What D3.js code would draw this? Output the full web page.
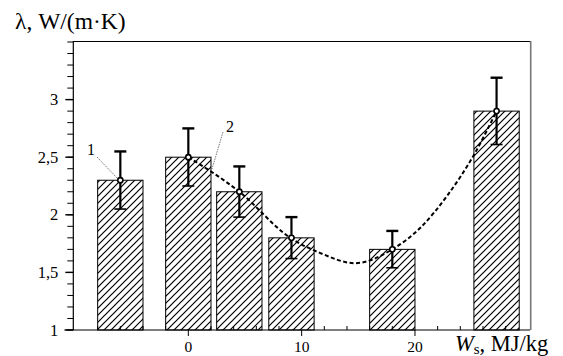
<!DOCTYPE html>
<html>
<head>
<meta charset="utf-8">
<script src="https://cdn.jsdelivr.net/npm/d3@7"></script>
<style>
  body { margin: 0; background: #fff; }
  svg text { font-family: "Liberation Serif", "DejaVu Serif", serif; }
</style>
</head>
<body>
<svg width="563" height="356"></svg>
<script>
// Bars: x position (MJ/kg), lambda value, error half-width
const barX = [-6, 0, 4.5, 9.1, 18, 27.2];
const barValues = [2.3, 2.5, 2.2, 1.8, 1.7, 2.9];
const barErrors = [0.25, 0.25, 0.22, 0.18, 0.16, 0.29];

// Dashed trend line (curve 2)
const curveX = [0, 4.5, 9, 11.6, 14.7, 18, 20.5, 22.8, 25.2, 27.2];
const curveY = [2.5, 2.2, 1.8, 1.67, 1.58, 1.7, 1.89, 2.16, 2.52, 2.9];

// Axis ticks
const yMajorTicks = [1, 1.5, 2, 2.5, 3];
const yMinorTicks = d3.range(10, 36).map(d => d / 10);
const xMajorTicks = [0, 10, 20];
const xMinorTicks = [-8, -6, -4, -2, 2, 4, 6, 8, 12, 14, 16, 18, 22, 24, 26, 28];

const svg = d3.select("svg");
const pLeft = 73.3, pRight = 530, pTop = 42, pBottom = 330;
const serif = "'Liberation Serif', 'DejaVu Serif', serif";

const x = d3.scaleLinear().domain([-10.15, 30.15]).range([pLeft, pRight]);
const y = d3.scaleLinear().domain([1, 3.5]).range([pBottom, pTop]);

const comma = d3.formatLocale({ decimal: ",", thousands: " ", grouping: [3], currency: ["", ""] }).format("~g");

// hatch pattern
const defs = svg.append("defs");
defs.append("pattern")
  .attr("id", "hatch")
  .attr("patternUnits", "userSpaceOnUse")
  .attr("width", 7).attr("height", 7)
  .append("path")
  .attr("d", "M0,7 L7,0 M-2,2 L2,-2 M5,9 L9,5")
  .attr("stroke", "#000")
  .attr("stroke-width", 1.2);

// frame top and right
svg.append("line")
  .attr("x1", pLeft).attr("x2", pRight).attr("y1", pTop - 0.5).attr("y2", pTop - 0.5)
  .attr("stroke", "#000").attr("stroke-width", 1.2);
svg.append("line")
  .attr("x1", pRight + 0.7).attr("x2", pRight + 0.7).attr("y1", pTop - 1).attr("y2", pBottom)
  .attr("stroke", "#777").attr("stroke-width", 1.6);

// bars
const barWidth = 4;
svg.selectAll(".bar")
  .data(barValues)
  .join("rect")
  .attr("class", "bar")
  .attr("x", (d, i) => x(barX[i] - barWidth / 2))
  .attr("width", (d, i) => x(barX[i] + barWidth / 2) - x(barX[i] - barWidth / 2))
  .attr("y", d => y(d))
  .attr("height", d => y(1) - y(d))
  .attr("fill", "url(#hatch)")
  .attr("stroke", "#000")
  .attr("stroke-width", 1);

// dashed curve
const curveData = curveX.map((v, i) => ({ x: v, y: curveY[i] }));
svg.append("path")
  .datum(curveData)
  .attr("fill", "none")
  .attr("stroke", "#000")
  .attr("stroke-width", 2)
  .attr("stroke-dasharray", "4,2.5")
  .attr("d", d3.line().x(d => x(d.x)).y(d => y(d.y)).curve(d3.curveMonotoneX));

// error bars
const capW = 6;
barValues.forEach((v, i) => {
  const cx = x(barX[i]);
  const g = svg.append("g").attr("stroke", "#000");
  g.append("line")
    .attr("x1", cx).attr("x2", cx)
    .attr("y1", y(v + barErrors[i])).attr("y2", y(v - barErrors[i]))
    .attr("stroke-width", 2.2);
  g.append("line")
    .attr("x1", cx - capW).attr("x2", cx + capW)
    .attr("y1", y(v + barErrors[i])).attr("y2", y(v + barErrors[i]))
    .attr("stroke-width", 2.4);
  g.append("line")
    .attr("x1", cx - capW).attr("x2", cx + capW)
    .attr("y1", y(v - barErrors[i])).attr("y2", y(v - barErrors[i]))
    .attr("stroke-width", 1.6);
  g.append("circle")
    .attr("cx", cx).attr("cy", y(v)).attr("r", 2.6)
    .attr("fill", "#fff").attr("stroke-width", 1.6);
});

// y axis
svg.append("line")
  .attr("x1", pLeft).attr("x2", pLeft).attr("y1", pTop - 1).attr("y2", pBottom)
  .attr("stroke", "#000").attr("stroke-width", 1.2);
svg.selectAll(".ymin")
  .data(yMinorTicks)
  .join("line")
  .attr("x1", pLeft - 6).attr("x2", pLeft)
  .attr("y1", d => y(d)).attr("y2", d => y(d))
  .attr("stroke", "#000").attr("stroke-width", 1);
svg.selectAll(".ymaj")
  .data(yMajorTicks)
  .join("line")
  .attr("x1", pLeft - 8).attr("x2", pLeft)
  .attr("y1", d => y(d)).attr("y2", d => y(d))
  .attr("stroke", "#000").attr("stroke-width", 1.4);
svg.selectAll(".ylab")
  .data(yMajorTicks)
  .join("text")
  .attr("x", pLeft - 15)
  .attr("y", d => y(d) + 5.5)
  .attr("text-anchor", "end")
  .attr("font-family", serif)
  .attr("font-size", 16.5)
  .text(d => comma(d));

// x axis
svg.append("line")
  .attr("x1", pLeft - 9).attr("x2", pRight).attr("y1", pBottom).attr("y2", pBottom)
  .attr("stroke", "#000").attr("stroke-width", 1.2);
svg.selectAll(".xmin")
  .data(xMinorTicks)
  .join("line")
  .attr("x1", d => x(d)).attr("x2", d => x(d))
  .attr("y1", pBottom - 4).attr("y2", pBottom)
  .attr("stroke", "#000").attr("stroke-width", 1);
svg.selectAll(".xmaj")
  .data(xMajorTicks)
  .join("line")
  .attr("x1", d => x(d)).attr("x2", d => x(d))
  .attr("y1", pBottom).attr("y2", pBottom + 6)
  .attr("stroke", "#000").attr("stroke-width", 1);
svg.selectAll(".xlab")
  .data(xMajorTicks)
  .join("text")
  .attr("x", d => x(d))
  .attr("y", pBottom + 22)
  .attr("text-anchor", "middle")
  .attr("font-family", serif)
  .attr("font-size", 15.5)
  .text(d => d);

// axis titles
svg.append("text")
  .attr("x", 15).attr("y", 29)
  .attr("font-family", serif)
  .attr("font-size", 23.5)
  .text("λ, W/(m·K)");

const xt = svg.append("text")
  .attr("x", 455).attr("y", 351)
  .attr("font-family", serif)
  .attr("font-size", 22.5);
xt.append("tspan").attr("font-style", "italic").text("W");
xt.append("tspan").attr("font-size", 15).attr("dy", 3).text("s");
xt.append("tspan").attr("dy", -3).text(", MJ/kg");

// curve labels with leaders
svg.append("line")
  .attr("x1", 97).attr("y1", 157).attr("x2", x(barX[0]) - 3).attr("y2", y(barValues[0]) - 2)
  .attr("stroke", "#555").attr("stroke-width", 0.8).attr("stroke-dasharray", "1.5,1");
svg.append("text")
  .attr("x", 91).attr("y", 155)
  .attr("text-anchor", "middle")
  .attr("font-family", serif)
  .attr("font-size", 16)
  .text("1");
svg.append("line")
  .attr("x1", 223).attr("y1", 132).attr("x2", 212).attr("y2", 169)
  .attr("stroke", "#555").attr("stroke-width", 0.8).attr("stroke-dasharray", "1.5,1");
svg.append("text")
  .attr("x", 230).attr("y", 132)
  .attr("text-anchor", "middle")
  .attr("font-family", serif)
  .attr("font-size", 16)
  .text("2");
</script>
</body>
</html>
